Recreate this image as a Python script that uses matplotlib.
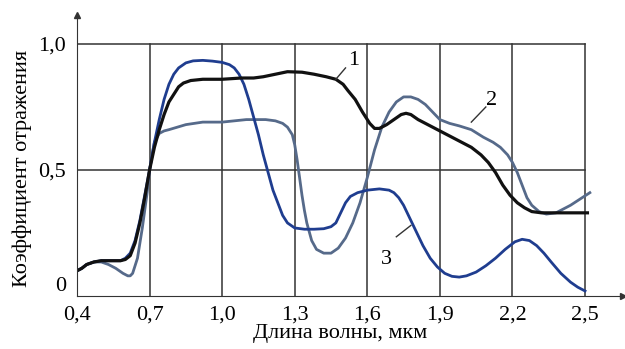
import numpy as np
import matplotlib.pyplot as plt

plt.rcParams['font.family'] = ['Liberation Serif', 'DejaVu Serif']

# кривая 1 (черная)
x1 = [0.40, 0.42, 0.44, 0.47, 0.50, 0.54, 0.58, 0.60, 0.62, 0.64, 0.66, 0.68, 0.70, 0.72,
      0.74, 0.76, 0.78, 0.80, 0.82, 0.84, 0.87, 0.92, 1.00, 1.08, 1.13, 1.17, 1.22, 1.27,
      1.33, 1.38, 1.43, 1.47, 1.50, 1.52, 1.55, 1.58, 1.61, 1.63, 1.65, 1.68, 1.71, 1.74,
      1.76, 1.78, 1.81, 1.85, 1.91, 1.97, 2.03, 2.07, 2.10, 2.13, 2.16, 2.19, 2.22, 2.25,
      2.28, 2.32, 2.38, 2.44, 2.51]
y1 = [0.10, 0.11, 0.125, 0.135, 0.14, 0.14, 0.14, 0.145, 0.16, 0.21, 0.29, 0.39, 0.50, 0.59,
      0.66, 0.72, 0.77, 0.80, 0.83, 0.845, 0.855, 0.86, 0.86, 0.865, 0.865, 0.87, 0.88, 0.89,
      0.888, 0.88, 0.87, 0.86, 0.84, 0.815, 0.78, 0.73, 0.685, 0.665, 0.665, 0.68, 0.70, 0.72,
      0.725, 0.72, 0.70, 0.68, 0.65, 0.62, 0.59, 0.56, 0.53, 0.49, 0.44, 0.40, 0.37, 0.35,
      0.335, 0.33, 0.33, 0.33, 0.33]

# кривая 2 (серо-синяя)
x2 = [0.40, 0.42, 0.44, 0.47, 0.50, 0.53, 0.56, 0.59, 0.61, 0.62, 0.63, 0.65, 0.67, 0.69,
      0.70, 0.71, 0.72, 0.74, 0.76, 0.78, 0.85, 0.92, 1.00, 1.10, 1.18, 1.22, 1.25, 1.27,
      1.29, 1.30, 1.31, 1.32, 1.33, 1.34, 1.35, 1.37, 1.39, 1.42, 1.45, 1.48, 1.51, 1.54,
      1.57, 1.60, 1.63, 1.66, 1.69, 1.72, 1.75, 1.78, 1.81, 1.84, 1.87, 1.90, 1.94, 1.98,
      2.03, 2.08, 2.12, 2.15, 2.18, 2.20, 2.22, 2.24, 2.26, 2.28, 2.31, 2.34, 2.38, 2.44,
      2.52]
y2 = [0.10, 0.11, 0.125, 0.135, 0.135, 0.125, 0.11, 0.09, 0.08, 0.08, 0.09, 0.15, 0.27, 0.41,
      0.50, 0.56, 0.61, 0.645, 0.655, 0.66, 0.68, 0.69, 0.69, 0.70, 0.70, 0.695, 0.685, 0.67,
      0.64, 0.60, 0.54, 0.47, 0.40, 0.34, 0.29, 0.22, 0.185, 0.17, 0.17, 0.19, 0.23, 0.29,
      0.37, 0.47, 0.58, 0.67, 0.73, 0.77, 0.79, 0.79, 0.78, 0.76, 0.73, 0.70, 0.685, 0.675,
      0.66, 0.63, 0.61, 0.59, 0.56, 0.53, 0.49, 0.44, 0.39, 0.36, 0.335, 0.325, 0.33, 0.36,
      0.41]

# кривая 3 (синяя)
x3 = [0.40, 0.42, 0.44, 0.47, 0.50, 0.54, 0.58, 0.60, 0.62, 0.64, 0.66, 0.68, 0.70, 0.72,
      0.74, 0.76, 0.78, 0.80, 0.82, 0.85, 0.88, 0.92, 0.96, 1.00, 1.03, 1.05, 1.07, 1.09,
      1.11, 1.13, 1.15, 1.17, 1.19, 1.21, 1.23, 1.25, 1.27, 1.30, 1.34, 1.38, 1.42, 1.45,
      1.47, 1.49, 1.51, 1.53, 1.56, 1.60, 1.65, 1.69, 1.71, 1.73, 1.75, 1.77, 1.79, 1.81,
      1.83, 1.86, 1.89, 1.92, 1.95, 1.98, 2.01, 2.05, 2.09, 2.13, 2.17, 2.21, 2.24, 2.27,
      2.30, 2.33, 2.36, 2.40, 2.44, 2.47, 2.50]
y3 = [0.10, 0.11, 0.125, 0.135, 0.14, 0.14, 0.14, 0.15, 0.17, 0.22, 0.30, 0.40, 0.50, 0.61,
      0.70, 0.78, 0.84, 0.88, 0.905, 0.925, 0.933, 0.935, 0.932, 0.927, 0.918, 0.905, 0.88,
      0.84, 0.78, 0.71, 0.64, 0.56, 0.49, 0.42, 0.37, 0.32, 0.29, 0.27, 0.265, 0.265, 0.267,
      0.275, 0.29, 0.33, 0.37, 0.395, 0.41, 0.42, 0.425, 0.42, 0.41, 0.39, 0.36, 0.32, 0.28,
      0.24, 0.20, 0.15, 0.115, 0.09, 0.078, 0.075, 0.08, 0.095, 0.12, 0.15, 0.185, 0.215,
      0.225, 0.22, 0.20, 0.17, 0.135, 0.09, 0.055, 0.035, 0.02]

xticks = [0.4, 0.7, 1.0, 1.3, 1.6, 1.9, 2.2, 2.5]
xlabels = ['0,4', '0,7', '1,0', '1,3', '1,6', '1,9', '2,2', '2,5']
yticks = [0, 0.5, 1.0]
ylabels = ['0', '0,5', '1,0']

fig = plt.figure(figsize=(6.25, 3.49), dpi=100)
ax = fig.add_axes([77/625, 1-296/349, 546/625, 281/349])
ax.set_xlim(0.4, 2.657)
ax.set_ylim(0, 1.115)

# сетка-рамка
for xv in xticks[1:]:
    ax.plot([xv, xv], [0, 1.0], color='#333333', lw=1.1)
for yv in yticks[1:]:
    ax.plot([0.4, 2.5], [yv, yv], color='#333333', lw=1.1)

ax.plot(x2, y2, color='#566a8a', lw=2.0)
ax.plot(x3, y3, color='#1f3d8f', lw=2.0)
ax.plot(x1, y1, color='#111111', lw=2.3)

# номера кривых
ax.plot([1.47, 1.51], [0.86, 0.905], color='#333333', lw=1)
ax.text(1.52, 0.895, '1', fontsize=16, va='bottom')
ax.plot([2.03, 2.09], [0.69, 0.75], color='#333333', lw=1)
ax.text(2.09, 0.74, '2', fontsize=16, va='bottom')
ax.plot([1.72, 1.78], [0.235, 0.28], color='#333333', lw=1)
ax.text(1.655, 0.125, '3', fontsize=16)

for s in ['top', 'right']:
    ax.spines[s].set_visible(False)
ax.spines['left'].set_color('#333333')
ax.spines['bottom'].set_color('#333333')
ax.plot(1, 0, '>', color='#333333', ms=5, transform=ax.transAxes, clip_on=False)
ax.plot(0, 1, '^', color='#333333', ms=5, transform=ax.transAxes, clip_on=False)

ax.set_xticks(xticks, xlabels, fontsize=16)
ax.set_yticks(yticks, ylabels, fontsize=16)
ax.tick_params(axis='x', length=0, pad=7)
ax.tick_params(axis='y', length=0, pad=8)
ax.get_yticklabels()[0].set_va('bottom')
ax.set_xlabel('Длина волны, мкм', fontsize=16)
ax.xaxis.set_label_coords(0.482, -0.132)
ax.xaxis.label.set_va('center')
ax.set_ylabel('Коэффициент отражения', fontsize=16)
ax.yaxis.set_label_coords(-0.1, 0.455)
ax.yaxis.label.set_va('center')

fig.savefig('out.png', dpi=100)
